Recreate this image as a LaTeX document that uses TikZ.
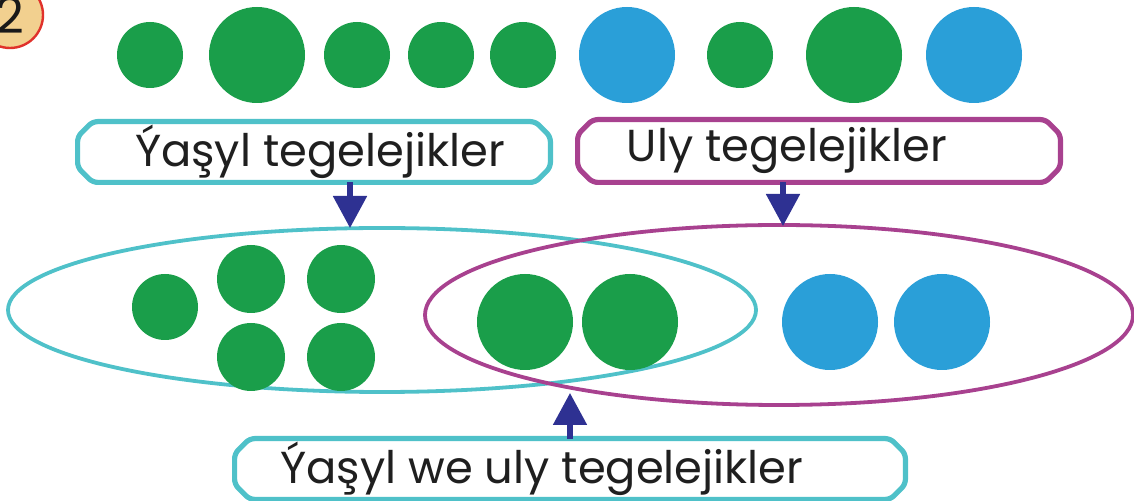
\documentclass[tikz,border=0pt]{standalone}
\usepackage{fontspec}
\setmainfont{Poppins}
\usetikzlibrary{shapes.geometric,arrows.meta,calc}
\definecolor{gr}{HTML}{1A9E4A}
\definecolor{bl}{HTML}{2A9FD8}
\definecolor{cy}{HTML}{4FC1C9}
\definecolor{mg}{HTML}{A8418F}
\definecolor{ar}{HTML}{2E3192}
\definecolor{badge}{HTML}{F2D08F}
\definecolor{badgeb}{HTML}{E0312B}
\tikzset{
  dot/.style={circle,inner sep=0pt,draw=none},
  sm/.style={dot,minimum size=33pt},
  bg/.style={dot,minimum size=48pt},
  lbox/.style={rectangle,inner sep=0pt,font=\fontsize{22.4}{26}\selectfont,text=black!88},
  frame/.style={line width=2.6pt,rounded corners=2.5pt,fill=white},
  oval/.style={ellipse,inner sep=0pt,line width=1.9pt},
  arr/.style={ar,line width=2.6pt,-{Triangle[width=16.5pt,length=16pt]}}
}
\newcommand{\chamf}[3]{% colour, node, chamfer
  \draw[frame,draw=#1] ($(#2.north west)+(#3,0)$) -- ($(#2.north east)+(-#3,0)$)
    -- ($(#2.north east)+(0,#3)$) -- ($(#2.south east)+(0,-#3)$)
    -- ($(#2.south east)+(-#3,0)$) -- ($(#2.south west)+(#3,0)$)
    -- ($(#2.south west)+(0,-#3)$) -- ($(#2.north west)+(0,#3)$) -- cycle;}
\begin{document}
\begin{tikzpicture}[x=0.5pt,y=-0.5pt]
\useasboundingbox (0,0) rectangle (1134,501);
% badge
\node[circle,fill=badge,draw=badgeb,line width=1.2pt,minimum size=33pt,inner sep=0pt,font=\fontsize{25}{28}\selectfont,text=black!90] (badge) at (10,15) {2};
% top row
\node[sm,fill=gr] (t1) at (150,55) {};
\node[bg,fill=gr] (t2) at (257,55) {};
\node[sm,fill=gr] (t3) at (357,55) {};
\node[sm,fill=gr] (t4) at (441,55) {};
\node[sm,fill=gr] (t5) at (523,55) {};
\node[bg,fill=bl] (t6) at (627,55) {};
\node[sm,fill=gr] (t7) at (740,55) {};
\node[bg,fill=gr] (t8) at (854,55) {};
\node[bg,fill=bl] (t9) at (974,55) {};
% ellipses
\node[oval,draw=cy,minimum width=374pt,minimum height=82pt] (e1) at (382,310) {};
\node[oval,draw=mg,minimum width=354pt,minimum height=90pt] (e2) at (779,315) {};
% inner dots
\node[sm,fill=gr] (i1) at (165,307) {};
\node[dot,fill=gr,minimum size=34pt] (i2) at (251,279) {};
\node[dot,fill=gr,minimum size=34pt] (i3) at (341,279) {};
\node[dot,fill=gr,minimum size=34pt] (i4) at (251,357) {};
\node[dot,fill=gr,minimum size=34pt] (i5) at (341,357) {};
\node[bg,fill=gr] (i6) at (525,322) {};
\node[bg,fill=gr] (i7) at (630,322) {};
\node[bg,fill=bl] (i8) at (830,322) {};
\node[bg,fill=bl] (i9) at (942,322) {};
% boxes (outlines first)
\path (314,152) node[lbox,minimum width=236pt,minimum height=30pt] (b1) {};
\path (819,151) node[lbox,minimum width=241pt,minimum height=31pt] (b2) {};
\path (570,469) node[lbox,minimum width=335pt,minimum height=30pt] (b3) {};
\chamf{cy}{b1}{15}
\chamf{mg}{b2}{15}
\chamf{cy}{b3}{15}
\node[lbox] at (b1) {\hspace*{6pt}Ýaşyl tegelejikler};
\node[lbox] at (b2) {\hspace*{-32pt}Uly tegelejikler};
\node[lbox] at (b3) {\hspace*{-28pt}Ýaşyl we uly tegelejikler};
% arrows
\coordinate (a1) at (350,228);
\coordinate (a2) at (783,226);
\coordinate (a3) at (570,393);
\draw[arr] (b1.south -| a1) -- (a1);
\draw[arr] (b2.south -| a2) -- (a2);
\draw[arr] (b3.north -| a3) -- (a3);
\end{tikzpicture}
\end{document}
